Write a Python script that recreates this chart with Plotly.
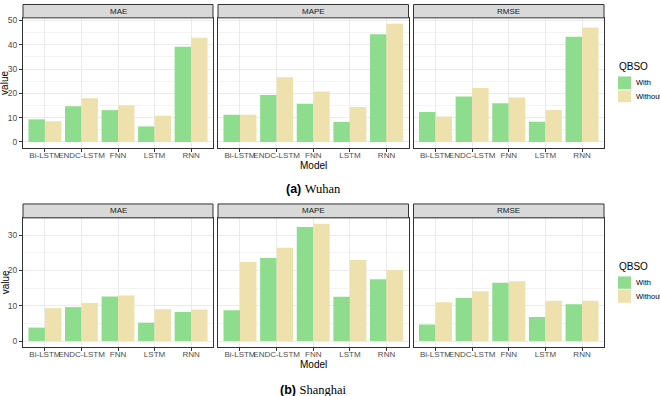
import plotly.graph_objects as go

models = ["Bi-LSTM", "ENDC-LSTM", "FNN", "LSTM", "RNN"]
metrics = ["MAE", "MAPE", "RMSE"]
groups = ["With", "Without"]
legend_title = "QBSO"

# Wuhan
wuhan_with = {
    "MAE": [9.3, 14.7, 13.1, 6.4, 39.2],
    "MAPE": [11.2, 19.3, 15.7, 8.2, 44.3],
    "RMSE": [12.3, 18.7, 15.9, 8.3, 43.3],
}
wuhan_without = {
    "MAE": [8.5, 18.0, 15.1, 10.8, 42.9],
    "MAPE": [11.2, 26.6, 20.8, 14.4, 48.6],
    "RMSE": [10.5, 22.2, 18.3, 13.2, 47.1],
}
# Shanghai
shanghai_with = {
    "MAE": [3.8, 9.6, 12.6, 5.2, 8.2],
    "MAPE": [8.7, 23.5, 32.3, 12.5, 17.5],
    "RMSE": [4.7, 12.2, 16.5, 6.8, 10.4],
}
shanghai_without = {
    "MAE": [9.3, 10.8, 12.9, 9.0, 8.9],
    "MAPE": [22.4, 26.4, 33.2, 22.9, 20.1],
    "RMSE": [11.0, 14.1, 16.9, 11.4, 11.4],
}
row_titles = [("(a)", "Wuhan"), ("(b)", "Shanghai")]

W, H = 660, 396
C_WITH = "#8EDC8E"
C_WITHOUT = "#EFE1AD"
BORDER = "#333333"
FONT = "Liberation Sans, Arial, sans-serif"

def px(x):
    return x / W

def py(y):
    return 1 - y / H

col_x = [(23, 213), (218, 408.5), (413.5, 604)]
rows = [
    dict(strip=(1.5, 15), plot=(15, 146), model_y=163.5, cap_y=187,
         leg=(64, 74, 87, 88, 100), data=(wuhan_with, wuhan_without)),
    dict(strip=(202.5, 216.5), plot=(216.5, 346.5), model_y=364, cap_y=389.5,
         leg=(266, 275.5, 288, 289, 302), data=(shanghai_with, shanghai_without)),
]

fig = go.Figure()
shapes = []
annotations = []
layout = {}

idx = 0
for r, row in enumerate(rows):
    dw, dwo = row["data"]
    ymax = max(max(max(dw[m]) for m in metrics), max(max(dwo[m]) for m in metrics))
    pad = 0.05 * ymax
    yr = [-pad, ymax + pad]
    for c, m in enumerate(metrics):
        idx += 1
        xa = "x" if idx == 1 else f"x{idx}"
        ya = "y" if idx == 1 else f"y{idx}"
        fig.add_trace(go.Bar(x=models, y=dw[m], name=groups[0], marker=dict(color=C_WITH, line=dict(width=0)),
                             xaxis=xa, yaxis=ya, offsetgroup="a", showlegend=False, hoverinfo="skip"))
        fig.add_trace(go.Bar(x=models, y=dwo[m], name=groups[1], marker=dict(color=C_WITHOUT, line=dict(width=0)),
                             xaxis=xa, yaxis=ya, offsetgroup="b", showlegend=False, hoverinfo="skip"))
        x0, x1 = col_x[c]
        p0, p1 = row["plot"]
        s0, s1 = row["strip"]
        layout["xaxis" if idx == 1 else f"xaxis{idx}"] = dict(
            domain=[px(x0), px(x1)], anchor=ya, type="category",
            categoryorder="array", categoryarray=models, range=[-0.6, 4.6],
            showgrid=True, gridcolor="#EBEBEB", gridwidth=1,
            showline=True, mirror=True, linecolor=BORDER, linewidth=1,
            ticks="outside", ticklen=3, tickcolor=BORDER, tickwidth=1, tickangle=0,
            ticklabelstandoff=-3,
            tickfont=dict(size=8, color="#4D4D4D", family=FONT), zeroline=False, fixedrange=True,
        )
        layout["yaxis" if idx == 1 else f"yaxis{idx}"] = dict(
            domain=[py(p1), py(p0)], anchor=xa, range=yr, dtick=10, tick0=0,
            showgrid=True, gridcolor="#EBEBEB", gridwidth=1,
            minor=dict(dtick=5, tick0=0, showgrid=True, gridcolor="#F4F4F4", gridwidth=1),
            showline=True, mirror=True, linecolor=BORDER, linewidth=1,
            ticks="outside" if c == 0 else "", ticklen=3, tickcolor=BORDER, tickwidth=1,
            showticklabels=(c == 0),
            tickfont=dict(size=8.5, color="#4D4D4D", family=FONT), zeroline=False, fixedrange=True,
        )
        shapes.append(dict(type="rect", xref="paper", yref="paper",
                           x0=px(x0), x1=px(x1), y0=py(s1), y1=py(s0),
                           fillcolor="#D9D9D9", line=dict(color=BORDER, width=1)))
        annotations.append(dict(text=m, xref="paper", yref="paper", x=px((x0 + x1) / 2),
                                y=py((s0 + s1) / 2), showarrow=False, xanchor="center", yanchor="middle",
                                font=dict(size=8, color="#1A1A1A", family=FONT)))
    p0, p1 = row["plot"]
    annotations.append(dict(text="value", xref="paper", yref="paper", x=px(5), y=py((p0 + p1) / 2),
                            textangle=-90, showarrow=False, xanchor="center", yanchor="middle",
                            font=dict(size=10, color="#000000", family=FONT)))
    annotations.append(dict(text="Model", xref="paper", yref="paper", x=px(313.5), y=py(row["model_y"]),
                            showarrow=False, xanchor="center", yanchor="middle",
                            font=dict(size=10, color="#000000", family=FONT)))
    lab, city = row_titles[r]
    annotations.append(dict(text=f"<b>{lab}</b> <span style='font-family:Liberation Serif, Times New Roman, serif'>{city}</span>",
                            xref="paper", yref="paper", x=px(313.5), y=py(row["cap_y"]),
                            showarrow=False, xanchor="center", yanchor="middle",
                            font=dict(size=12.5, color="#000000", family=FONT)))
    ty, a0, a1, b0, b1 = row["leg"]
    annotations.append(dict(text=legend_title, xref="paper", yref="paper", x=px(617), y=py(ty),
                            showarrow=False, xanchor="left", yanchor="middle",
                            font=dict(size=10, color="#000000", family=FONT)))
    for (k0, k1), col, g in [((a0, a1), C_WITH, groups[0]), ((b0, b1), C_WITHOUT, groups[1])]:
        shapes.append(dict(type="rect", xref="paper", yref="paper", x0=px(618), x1=px(631),
                           y0=py(k1), y1=py(k0), fillcolor=col, line=dict(width=0)))
        annotations.append(dict(text=g, xref="paper", yref="paper", x=px(633.5), y=py((k0 + k1) / 2),
                                showarrow=False, xanchor="left", yanchor="middle",
                                font=dict(size=7.5, color="#000000", family=FONT)))

fig.update_layout(
    width=W, height=H, margin=dict(l=0, r=0, t=0, b=0),
    paper_bgcolor="white", plot_bgcolor="white",
    barmode="group", bargap=0.1, bargroupgap=0,
    shapes=shapes, annotations=annotations, showlegend=False,
    **layout,
)
fig.write_html("out.html", config={"displayModeBar": False},
               post_script="document.body.style.margin='0';document.body.style.padding='0';")
